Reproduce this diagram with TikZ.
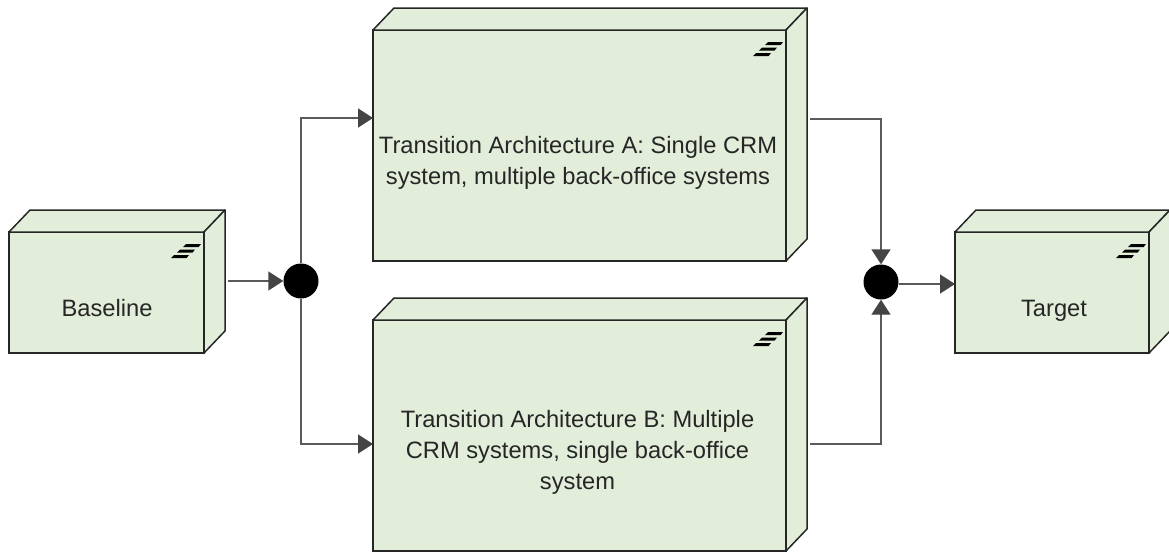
\documentclass[tikz,border=0pt]{standalone}
\usepackage{fontspec}
\setmainfont{Liberation Sans}
\usetikzlibrary{arrows.meta}
\definecolor{nodefill}{HTML}{E2EEDA}
\definecolor{nodeline}{HTML}{262626}
\definecolor{connline}{HTML}{5A5A5A}
\definecolor{tipfill}{HTML}{444444}
\tikzset{
    front/.style = {draw=nodeline, fill=nodefill, line width=1.5pt, inner sep=0pt, outer sep=0pt},
    face/.style = {draw=nodeline, fill=nodefill, line width=1.5pt, line join=round},
    caption/.style = {align=center, text=black!85, inner sep=0pt, font=\fontsize{23.7}{31}\selectfont},
    junction/.style = {circle, fill=black, inner sep=0pt, minimum size=35pt},
    conn/.style = {draw=connline, line width=1.4pt, -{Triangle[length=15pt,width=19pt,fill=tipfill,color=tipfill]}}
}
\newcommand{\archbox}[5]{
    \node[front, minimum width=#4pt, minimum height=#5pt] (#1) at (#2,#3) {};
    \draw[face] (#1.north west) -- ++(21,-22) -- ++(#4,0) -- ++(-21,22) -- cycle;
    \draw[face] (#1.north east) -- ++(21,-22) -- ++(0,#5) -- ++(-21,22) -- cycle;
    \coordinate (#1 back) at ([xshift=24pt]#1.east);
    \foreach \i in {0,1,2}
        \fill[black, shift={(#1.north east)}] (-3-6*\i,12+5.5*\i) -- ++(-15,0) -- ++(-3,3.2) -- ++(15.5,0) -- cycle;
}
\begin{document}
\begin{tikzpicture}[x=1pt,y=-1pt]
    \useasboundingbox (0,0) rectangle (1169,554);
    \archbox{baseline}{106.5}{292.5}{195}{121}
    \archbox{archa}{579.5}{145.5}{413}{231}
    \archbox{archb}{579.5}{435.5}{413}{231}
    \archbox{target}{1052}{292.5}{194}{121}
    \node[caption] (baseline text) at (107,308) {Baseline};
    \node[caption] (archa text) at (578,163) {Transition Architecture A: Single CRM\\system, multiple back-office systems};
    \node[caption] (archb text) at (577.5,452) {Transition Architecture B: Multiple\\CRM systems, single back-office\\system};
    \node[caption] (target text) at (1054,311) {Target};
    \node[junction] (forkjoin) at (301,281) {};
    \node[junction] (mergejoin) at (881,282) {};
    \coordinate (archa in) at (373,118);
    \coordinate (archb in) at (373,444);
    \coordinate (archa out) at (810,119);
    \coordinate (archb out) at (810,444);
    \coordinate (target in) at (955,284);
    \draw[conn] (baseline back |- forkjoin) -- (forkjoin);
    \draw[conn] (forkjoin.north) |- (archa in);
    \draw[conn] (forkjoin.south) |- (archb in);
    \draw[conn] (archa out) -| (mergejoin.north);
    \draw[conn] (archb out) -| (mergejoin.south);
    \draw[conn] (mergejoin.east |- target in) -- (target in);
\end{tikzpicture}
\end{document}
